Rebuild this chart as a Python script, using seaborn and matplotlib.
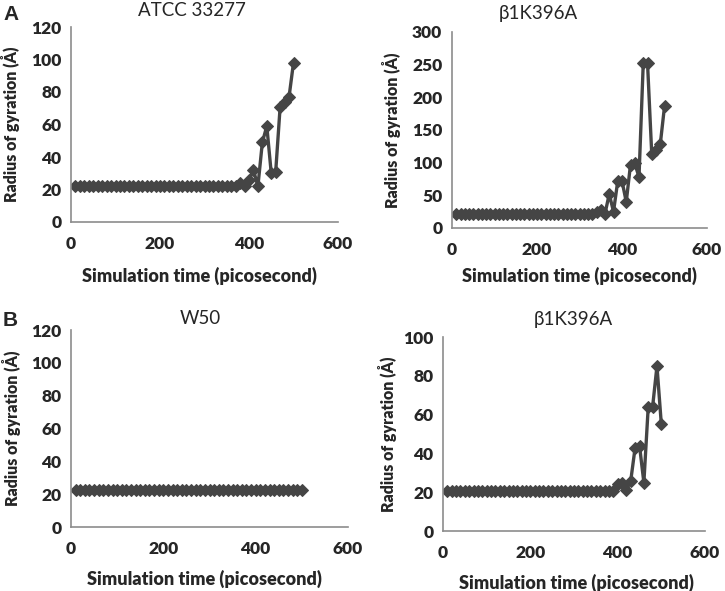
import matplotlib
matplotlib.use("Agg")
import pandas as pd
import matplotlib.pyplot as plt
import seaborn as sns

# time points (picosecond)
time_ps = [10, 20, 30, 40, 50, 60, 70, 80, 90, 100,
           110, 120, 130, 140, 150, 160, 170, 180, 190, 200,
           210, 220, 230, 240, 250, 260, 270, 280, 290, 300,
           310, 320, 330, 340, 350, 360, 370, 380, 390, 400,
           410, 420, 430, 440, 450, 460, 470, 480, 490, 500]

# radius of gyration (Å)
atcc_rg = [22, 22, 22, 22, 22, 22, 22, 22, 22, 22,
           22, 22, 22, 22, 22, 22, 22, 22, 22, 22,
           22, 22, 22, 22, 22, 22, 22, 22, 22, 22,
           22, 22, 22, 22, 22, 22, 22, 24, 22, 26,
           32, 22, 49, 59, 30, 31, 71, 74, 77, 98]

mutA_rg = [22, 22, 22, 22, 22, 22, 22, 22, 22, 22,
           22, 22, 22, 22, 22, 22, 22, 22, 22, 22,
           22, 22, 22, 22, 22, 22, 22, 22, 22, 22,
           22, 22, 22, 25, 28, 22, 52, 25, 72, 72,
           40, 97, 99, 78, 252, 253, 113, 120, 128, 186]

w50_rg = [22.5, 22.5, 22.5, 22.5, 22.5, 22.5, 22.5, 22.5, 22.5, 22.5,
          22.5, 22.5, 22.5, 22.5, 22.5, 22.5, 22.5, 22.5, 22.5, 22.5,
          22.5, 22.5, 22.5, 22.5, 22.5, 22.5, 22.5, 22.5, 22.5, 22.5,
          22.5, 22.5, 22.5, 22.5, 22.5, 22.5, 22.5, 22.5, 22.5, 22.5,
          22.5, 22.5, 22.5, 22.5, 22.5, 22.5, 22.5, 22.5, 22.5, 22.5]

mutB_rg = [20.5, 20.5, 20.5, 20.5, 20.5, 20.5, 20.5, 20.5, 20.5, 20.5,
           20.5, 20.5, 20.5, 20.5, 20.5, 20.5, 20.5, 20.5, 20.5, 20.5,
           20.5, 20.5, 20.5, 20.5, 20.5, 20.5, 20.5, 20.5, 20.5, 20.5,
           20.5, 20.5, 20.5, 20.5, 20.5, 20.5, 20.5, 20.5, 20.5, 24,
           25, 21, 26, 43, 44, 25, 64, 64, 85, 55]

titles = ["ATCC 33277", "β1K396A", "W50", "β1K396A"]
y_max = [120, 300, 120, 100]
y_step = [20, 50, 20, 20]
x_ticks = [0, 200, 400, 600]

sns.set_style("white")
plt.rcParams["font.family"] = ["Lato", "DejaVu Sans"]

W, H = 725, 591
fig = plt.figure(figsize=(W / 100, H / 100), dpi=100)

# axes boxes in pixels: left, right, top, bottom
boxes = [(71, 338, 27, 222), (452, 707, 32, 228),
         (71, 348, 330, 527), (443, 705, 337, 531)]
title_pos = [(192, 11), (538, 13), (200, 319), (573, 320)]
ylab_x = [-0.19, -0.20, -0.182, -0.176]
xlab = [(0.48, -0.23), (0.50, -0.20), (0.48, -0.215), (0.51, -0.22)]

series = [atcc_rg, mutA_rg, w50_rg, mutB_rg]
line_col = "#454545"
spine_col = "#8c8c8c"

for i, rg in enumerate(series):
    l, r, t, b = boxes[i]
    ax = fig.add_axes([l / W, 1 - b / H, (r - l) / W, (b - t) / H])
    df = pd.DataFrame({"time": time_ps, "rg": rg})
    sns.lineplot(data=df, x="time", y="rg", ax=ax, color=line_col,
                 linewidth=2.4, marker="D", markersize=6,
                 markeredgecolor=line_col, markerfacecolor=line_col)
    ax.set_xlim(0, 600)
    ax.set_ylim(0, y_max[i])
    ax.set_xticks(x_ticks)
    ax.set_yticks(range(0, y_max[i] + 1, y_step[i]))
    for s in ["top", "right"]:
        ax.spines[s].set_visible(False)
    for s in ["left", "bottom"]:
        ax.spines[s].set_color(spine_col)
        ax.spines[s].set_linewidth(1.2)
    ax.tick_params(axis="both", direction="out", length=4, width=1.2,
                   color=spine_col, labelsize=12.5, pad=3)
    ax.tick_params(axis="x", pad=6)
    for lab in ax.get_xticklabels() + ax.get_yticklabels():
        lab.set_fontweight("heavy")
    ax.set_xlabel("Simulation time (picosecond)", fontsize=13, fontweight="heavy")
    ax.set_ylabel("Radius of gyration (Å)", fontsize=11.5, fontweight="heavy")
    ax.xaxis.set_label_coords(*xlab[i])
    ax.yaxis.set_label_coords(ylab_x[i], 0.5)
    tx, ty = title_pos[i]
    fig.text(tx / W, 1 - ty / H, titles[i], ha="center", va="center", fontsize=13.5)

fig.text(3 / W, 1 - 15 / H, "A", ha="left", va="center", fontsize=15,
         fontweight="bold", family="Liberation Sans")
fig.text(3 / W, 1 - 320 / H, "B", ha="left", va="center", fontsize=15,
         fontweight="bold", family="Liberation Sans")

fig.savefig("out.png", dpi=100)
